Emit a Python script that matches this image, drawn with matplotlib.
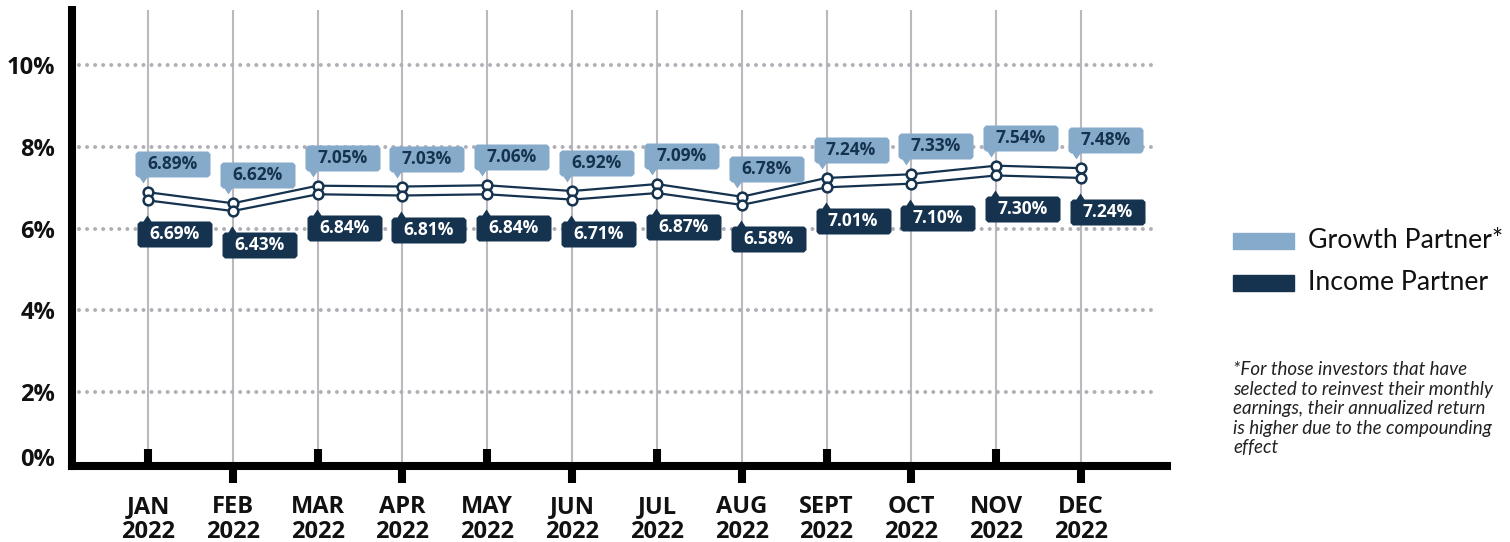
import numpy as np
import matplotlib
matplotlib.use("Agg")
from matplotlib import pyplot as plt
from matplotlib.path import Path
from matplotlib.patches import Rectangle

# data
months = ['JAN', 'FEB', 'MAR', 'APR', 'MAY', 'JUN', 'JUL', 'AUG', 'SEPT', 'OCT', 'NOV', 'DEC']
year = '2022'
growth = [6.89, 6.62, 7.05, 7.03, 7.06, 6.92, 7.09, 6.78, 7.24, 7.33, 7.54, 7.48]
income = [6.69, 6.43, 6.84, 6.81, 6.84, 6.71, 6.87, 6.58, 7.01, 7.10, 7.30, 7.24]
grid_vals = [2, 4, 6, 8, 10]
series_names = ['Growth Partner*', 'Income Partner']
note = ('*For those investors that have\nselected to reinvest their monthly\n'
        'earnings, their annualized return\nis higher due to the compounding\neffect')

light = '#86aaca'
navy = '#15334f'
DPI = 100


def callout(left, right, bottom, top, tip, r=2.5):
    # box with a small pointer, in pixels around the data point
    tx, ty = tip
    pts = [(left + r, bottom)]
    if ty < bottom:
        pts += [(tx - 4, bottom), (tx, ty), (tx + 4, bottom)]
    pts += [(right - r, bottom), (right, bottom + r), (right, top - r), (right - r, top)]
    if ty > top:
        pts += [(tx + 4, top), (tx, ty), (tx - 4, top)]
    pts += [(left + r, top), (left, top - r), (left, bottom + r), (left + r, bottom)]
    verts = np.array(pts, dtype=float)
    codes = [Path.MOVETO] + [Path.LINETO] * (len(pts) - 2) + [Path.CLOSEPOLY]
    size = 2 * np.abs(verts).max() * 72 / DPI
    return Path(verts, codes), size


fig = plt.figure(figsize=(15.1, 5.42), dpi=DPI)
ax = fig.add_axes([72 / 1510, 1 - 466 / 542, 1095 / 1510, 456 / 542])

x = np.arange(len(months))
ax.set_xlim(-0.896, 12.014)
ax.set_ylim(0.19, 11.35)

# grid
for xi in x:
    ax.axvline(xi, color='#bcb8c0', lw=1.5, zorder=1)
for g in grid_vals:
    ax.axhline(g, xmin=0.006, xmax=0.99, color='#b2aeb6', lw=2.9,
               linestyle=(0, (0.001, 2.0)), dash_capstyle='round', zorder=1)

# lines
for vals in (growth, income):
    ax.plot(x, vals, color=navy, lw=1.6, marker='o', ms=7, mfc='white',
            mec=navy, mew=1.8, zorder=2)

# callouts
g_path, g_size = callout(-13, 62, 15, 41, (-5, 9))
i_path, i_size = callout(-11, 64, -47, -21, (-1, -15))
ax.plot(x, growth, ls='none', marker=g_path, ms=g_size, mfc=light, mew=0, zorder=3)
ax.plot(x, income, ls='none', marker=i_path, ms=i_size, mfc=navy, mew=0, zorder=3)
for xi, gv, iv in zip(x, growth, income):
    ax.annotate(f'{gv:.2f}%', (xi, gv), xytext=(24.5, 28), textcoords='offset pixels',
                ha='center', va='center', fontsize=12.5, fontweight='bold',
                family='Open Sans', color=navy, zorder=4)
    ax.annotate(f'{iv:.2f}%', (xi, iv), xytext=(26.5, -34), textcoords='offset pixels',
                ha='center', va='center', fontsize=12.5, fontweight='bold',
                family='Open Sans', color='white', zorder=4)

# axes
for side in ('top', 'right'):
    ax.spines[side].set_visible(False)
for side in ('left', 'bottom'):
    ax.spines[side].set_linewidth(5.8)
    ax.spines[side].set_color('black')

ax.set_yticks([0.42] + grid_vals, ['0%'] + [f'{g}%' for g in grid_vals])
ax.tick_params(axis='y', length=0, pad=12)

labels = [f'{m}\n{year}' for m in months]
ax.set_xticks(x[::2], labels[::2])
ax.set_xticks(x[1::2], labels[1::2], minor=True)
ax.tick_params(axis='x', which='major', direction='in', length=12.5, width=5.8, pad=21)
ax.tick_params(axis='x', which='minor', direction='out', length=12.5, width=5.8, pad=8.5)

for lab in ax.get_yticklabels():
    lab.set_fontfamily('Open Sans')
    lab.set_fontweight('bold')
    lab.set_fontsize(17)
    lab.set_color('#111111')
for lab in ax.get_xticklabels() + ax.get_xticklabels(minor=True):
    lab.set_fontfamily('Open Sans')
    lab.set_fontweight('bold')
    lab.set_fontsize(17)
    lab.set_color('#111111')
    lab.set_linespacing(1.02)

# legend
for k, (name, col) in enumerate(zip(series_names, (light, navy))):
    yc = 1 - (241 + 42 * k) / 542
    fig.add_artist(Rectangle((1233 / 1510, yc - 8 / 542), 61 / 1510, 16 / 542,
                             transform=fig.transFigure, color=col))
    fig.text(1308 / 1510, yc, name, fontsize=19.2, family='Lato', color='#111111',
             va='center', ha='left')

fig.text(1233 / 1510, 1 - 361 / 542, note, fontsize=13.5, family='Lato', style='italic',
         color='#222222', va='top', ha='left', linespacing=1.18)

fig.savefig('out.png', dpi=DPI)
